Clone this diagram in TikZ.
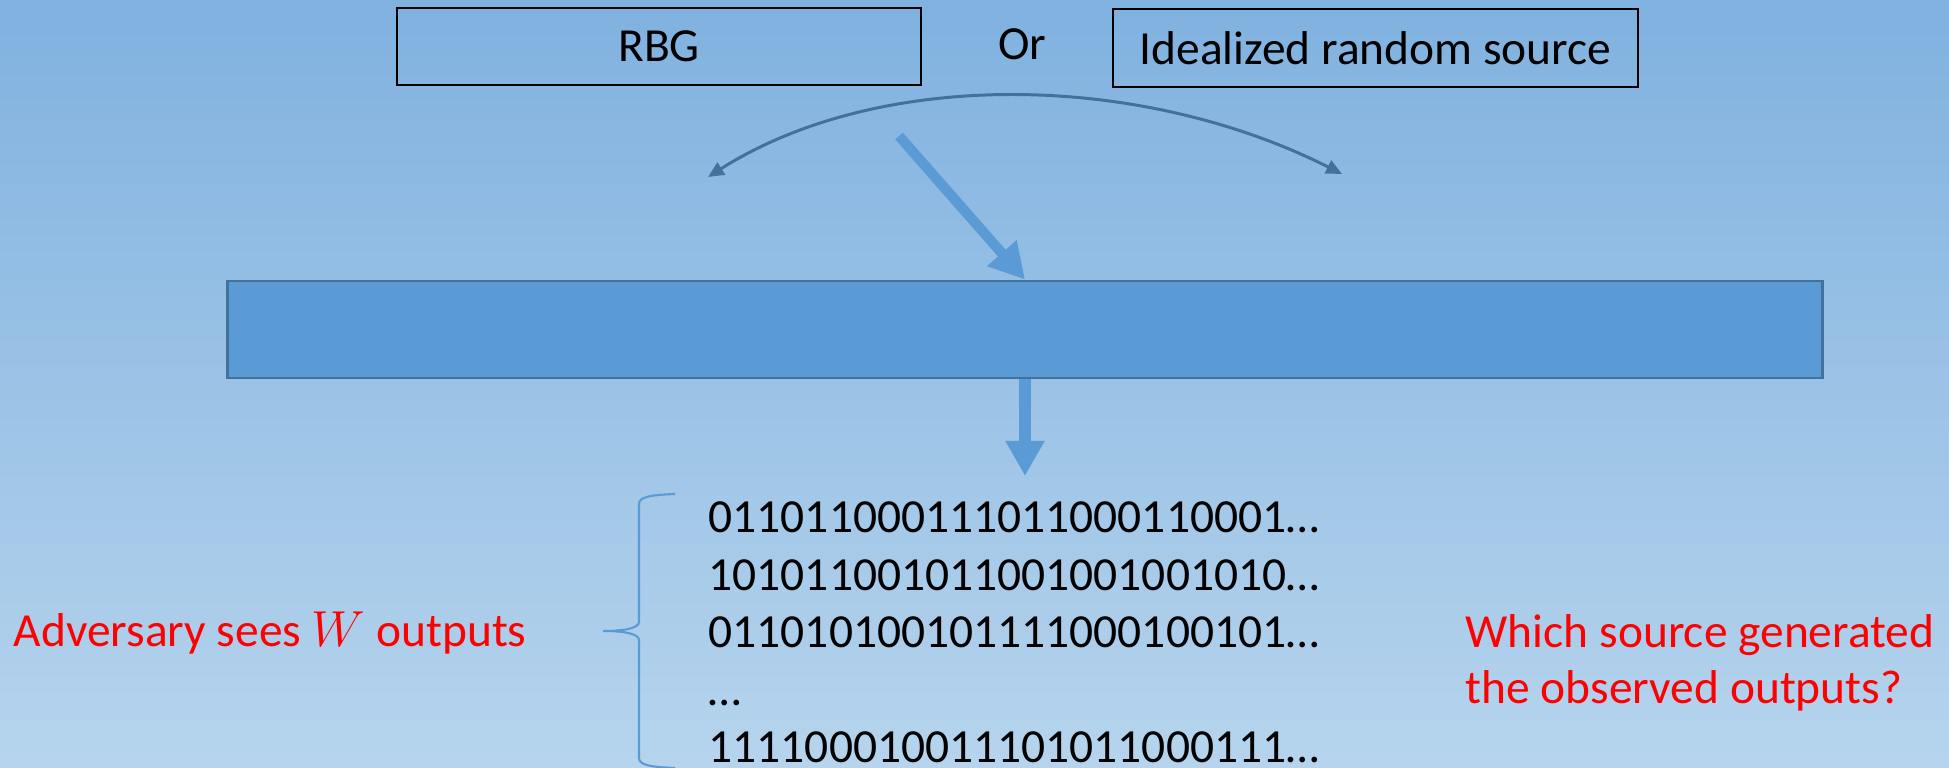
\documentclass[tikz,border=0pt]{standalone}
\usepackage{fontspec}
\setmainfont{Carlito}
\usetikzlibrary{arrows.meta}

\definecolor{bgtop}{HTML}{80B1DF}
\definecolor{bgbot}{HTML}{B6D4ED}
\definecolor{accent}{HTML}{5B9BD5}
\definecolor{accentdk}{HTML}{41719C}
\definecolor{askred}{HTML}{FF0000}

\tikzset{
  srcbox/.style={draw=black, line width=0.45pt, inner sep=0pt, font=\fontsize{13.5}{16.2}\selectfont},
  bitrow/.style={inner sep=0pt, anchor=base west, font=\fontsize{13.5}{16.2}\selectfont},
  asktext/.style={inner sep=0pt, text=askred, font=\fontsize{13.5}{16.2}\selectfont},
  pick/.style={draw=accentdk, line width=0.85pt, {Triangle[length=4.5pt, width=4pt]}-{Triangle[length=4.5pt, width=4pt]}},
  fatarrow/.style={draw=accent, line width=2.9pt, -{Triangle[length=10pt, width=10.5pt]}}
}

\begin{document}
\begin{tikzpicture}[x=0.01cm, y=-0.01cm]
  % background
  \shade[top color=bgtop, bottom color=bgbot] (0,0) rectangle (1949,768);
  \useasboundingbox (0,0) rectangle (1949,768);

  % the two sources
  \node[srcbox, minimum width=5.24cm, minimum height=0.77cm] (rbg) at (659,46.5) {RBG};
  \node[font=\fontsize{13.5}{16.2}\selectfont, inner sep=0pt] (or) at (1022,44) {Or};
  \node[srcbox, minimum width=5.25cm, minimum height=0.78cm] (ideal) at (1375.5,48) {Idealized random source};

  \coordinate (pickl) at (708,177);
  \coordinate (pickr) at (1342,174);
  \draw[pick] (pickl) .. controls (880,68) and (1140,72) .. (pickr);

  % generator box
  \node[draw=accentdk, fill=accent, line width=0.8pt, inner sep=0pt,
        minimum width=15.94cm, minimum height=0.97cm] (gen) at (1025,329.5) {};
  \coordinate (sel) at (899,136);
  \draw[fatarrow] (sel) -- (gen.north);
  \coordinate (out) at (1025,476);
  \draw[fatarrow, line width=3.4pt] (gen.south) -- (out);

  % outputs
  \foreach \bits/\yb in {011011000111011000110001…/533, 101011001011001001001010…/591,
      011010100101111000100101…/648, …/706, 111100010011101011000111…/763} {
    \node[bitrow] (row\yb) at (708, \yb) {\bits};
  }
  \draw[accent, line width=0.6pt] (675,494) .. controls (650,495) and (639,497) .. (639,504)
    -- (639,622) .. controls (639,628) and (625,631) .. (603,631)
    .. controls (625,631) and (639,634) .. (639,640)
    -- (639,758) .. controls (639,765) and (650,767) .. (675,768);

  \node[asktext, anchor=base west] (adv) at (13,647) {Adversary sees $W$\ outputs};
  \node[asktext, anchor=base west, align=left] (which) at (1465,704) {Which source generated\\the observed outputs?};
\end{tikzpicture}
\end{document}
